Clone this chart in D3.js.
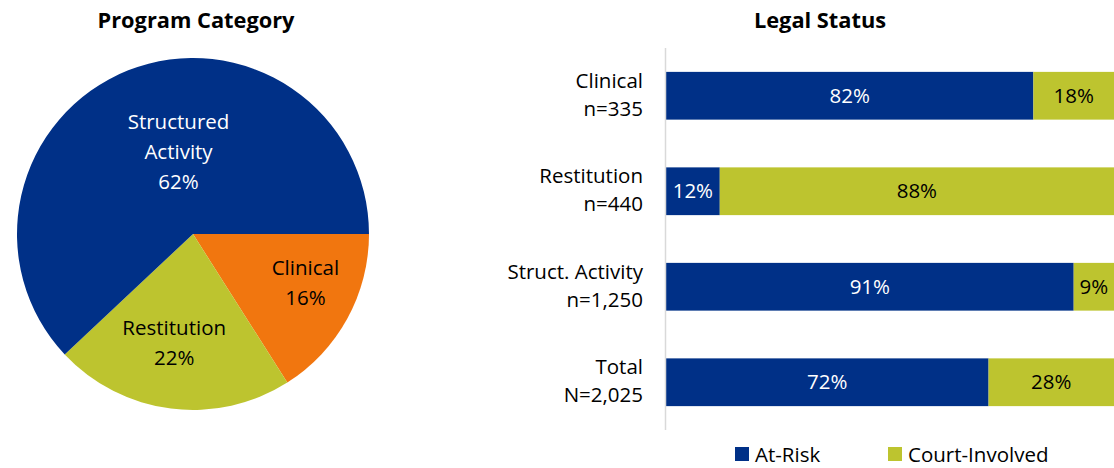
<!DOCTYPE html>
<html lang="en">
<head>
  <meta charset="UTF-8" />
  <title>Program Category and Legal Status</title>
  <script src="https://d3js.org/d3.v7.min.js"></script>
  <style>
    body {
      margin: 0;
      background: #ffffff;
      font-family: "Open Sans", Lato, sans-serif;
    }
    svg {
      display: block;
    }
    .title {
      font-size: 21.8px;
      font-weight: bold;
      fill: #000;
    }
    .label {
      font-size: 20.5px;
    }
  </style>
</head>
<body>
  <svg id="chart" width="1114" height="468"></svg>

  <script>
    // pie data
    const categories = ["Clinical", "Restitution", "Structured Activity"];
    const categoryShares = [16, 22, 62];
    const categoryLabels = [["Clinical", "16%"], ["Restitution", "22%"], ["Structured", "Activity", "62%"]];

    // stacked bar data
    const groups = ["Clinical", "Restitution", "Struct. Activity", "Total"];
    const groupCounts = ["n=335", "n=440", "n=1,250", "N=2,025"];
    const atRisk = [82, 12, 91, 72];
    const courtInvolved = [18, 88, 9, 28];
    const seriesNames = ["At-Risk", "Court-Involved"];

    const navy = "#003087";
    const olive = "#bdc42f";
    const orange = "#f1760f";
    const pieColors = [orange, olive, navy];
    const pieTextColors = ["#000", "#000", "#fff"];

    const svg = d3.select("#chart");

    // ---------- pie ----------
    const cx = 193, cy = 234, radius = 176;

    svg.append("text")
      .attr("class", "title")
      .attr("x", 196)
      .attr("y", 28)
      .attr("text-anchor", "middle")
      .text("Program Category");

    const pie = d3.pie()
      .sort(null)
      .startAngle(Math.PI / 2)
      .endAngle(Math.PI / 2 + 2 * Math.PI)
      .value(d => d);

    const arc = d3.arc().innerRadius(0).outerRadius(radius);
    const labelArc = d3.arc().innerRadius(110).outerRadius(110);
    // nudges for label placement, like Excel best-fit
    const labelNudge = [[16, -4], [-5, 0], [26, 20]];

    const slices = svg.append("g")
      .attr("transform", `translate(${cx},${cy})`)
      .selectAll("g")
      .data(pie(categoryShares))
      .join("g");

    slices.append("path")
      .attr("d", arc)
      .attr("fill", (d, i) => pieColors[i]);

    slices.append("text")
      .attr("class", "label")
      .attr("text-anchor", "middle")
      .attr("fill", (d, i) => pieTextColors[i])
      .attr("transform", (d, i) => {
        const [x, y] = labelArc.centroid(d);
        const lines = categoryLabels[i].length;
        return `translate(${x + labelNudge[i][0]},${y + labelNudge[i][1] - (lines - 1) * 15 + 7})`;
      })
      .selectAll("tspan")
      .data((d, i) => categoryLabels[i])
      .join("tspan")
      .attr("x", 0)
      .attr("dy", (d, i) => i === 0 ? 0 : 30)
      .text(d => d);

    // ---------- stacked bars ----------
    svg.append("text")
      .attr("class", "title")
      .attr("x", 820)
      .attr("y", 28)
      .attr("text-anchor", "middle")
      .text("Legal Status");

    const x = d3.scaleLinear().domain([0, 100]).range([666, 1114]);
    const y = d3.scaleBand().domain(groups).range([48, 430]).paddingInner(0.5).paddingOuter(0.25);

    const stackData = groups.map((g, i) => ({ group: g, "At-Risk": atRisk[i], "Court-Involved": courtInvolved[i] }));
    const stack = d3.stack().keys(seriesNames)(stackData);
    const barColors = [navy, olive];
    const barText = ["#fff", "#000"];

    const layers = svg.append("g")
      .selectAll("g")
      .data(stack)
      .join("g")
      .attr("fill", (d, i) => barColors[i]);

    layers.selectAll("rect")
      .data(d => d)
      .join("rect")
      .attr("x", d => x(d[0]))
      .attr("y", d => y(d.data.group))
      .attr("width", d => x(d[1]) - x(d[0]))
      .attr("height", y.bandwidth());

    stack.forEach((layer, li) => {
      svg.append("g")
        .selectAll("text")
        .data(layer)
        .join("text")
        .attr("class", "label")
        .attr("fill", barText[li])
        .attr("text-anchor", "middle")
        .attr("x", d => (x(d[0]) + x(d[1])) / 2)
        .attr("y", d => y(d.data.group) + y.bandwidth() / 2 + 7)
        .text(d => (d[1] - d[0]) + "%");
    });

    // vertical axis line
    svg.append("line")
      .attr("x1", 665.5).attr("x2", 665.5)
      .attr("y1", 48).attr("y2", 430)
      .attr("stroke", "#d9d9d9")
      .attr("stroke-width", 1.5);

    // category labels
    const catLabels = svg.append("g")
      .selectAll("text")
      .data(groups)
      .join("text")
      .attr("class", "label")
      .attr("fill", "#000")
      .attr("text-anchor", "end")
      .attr("y", d => y(d) + y.bandwidth() / 2 - 8);

    catLabels.append("tspan")
      .attr("x", 643)
      .text(d => d);
    catLabels.append("tspan")
      .attr("x", 643)
      .attr("dy", 28)
      .text((d, i) => groupCounts[i]);

    // legend
    const legend = svg.append("g")
      .selectAll("g")
      .data(seriesNames)
      .join("g")
      .attr("transform", (d, i) => `translate(${i === 0 ? 735 : 888}, 447)`);

    legend.append("rect")
      .attr("width", 14)
      .attr("height", 14)
      .attr("fill", (d, i) => barColors[i]);

    legend.append("text")
      .attr("class", "label")
      .attr("x", 20)
      .attr("y", 15)
      .attr("fill", "#000")
      .text(d => d);
  </script>
</body>
</html>
